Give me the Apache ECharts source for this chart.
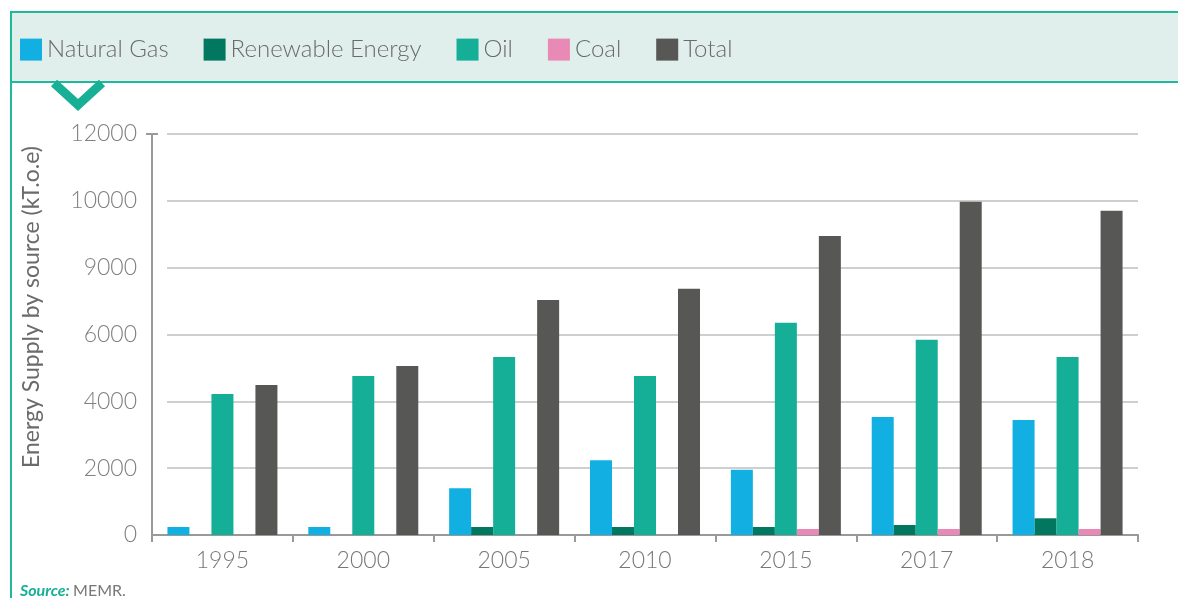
<!DOCTYPE html>
<html>
<head>
	<title>echarts</title>
	<script type="text/javascript" src="https://cdn.jsdelivr.net/npm/echarts@6/dist/echarts.min.js"></script>
	<style>
		body { margin: 0; background: #fff; }
	</style>
</head>
<body>
	<div id="mychar" style="width: 1178px;height:598px;"></div>

	<script type="text/javascript">
		// data (kT.o.e)
		var years = ['1995', '2000', '2005', '2010', '2015', '2017', '2018'];
		var naturalGas = [240, 240, 1400, 2240, 1950, 3530, 3440];
		var renewable = [0, 0, 240, 240, 240, 300, 500];
		var oil = [4220, 4760, 5330, 4760, 6350, 5840, 5330];
		var coal = [0, 0, 0, 0, 180, 180, 180];
		var total = [4490, 5060, 7030, 7370, 8950, 9970, 9700];
		// y tick labels as printed in the source (note the "9000")
		var yTickLabels = ['0', '2000', '4000', '6000', '9000', '10000', '12000'];

		var teal = '#17b096';
		var font = 'Lato, "Open Sans", sans-serif';

		var mychar = echarts.init(document.getElementById("mychar"));

		function barSeries(name, data, color) {
			return {
				name: name,
				type: 'bar',
				data: data,
				barWidth: 22,
				barGap: '0%',
				itemStyle: { color: color },
				emphasis: { disabled: true }
			};
		}

		var option = {
			backgroundColor: '#fff',
			animation: false,
			textStyle: { fontFamily: font },
			graphic: [
				{
					type: 'rect', z: -10, silent: true,
					shape: { x: 11, y: 12, width: 1180, height: 70 },
					style: { fill: '#e0efec', stroke: '#20b89c', lineWidth: 2 }
				},
				{
					type: 'line', z: -10, silent: true,
					shape: { x1: 11, y1: 12, x2: 11, y2: 600 },
					style: { stroke: '#20b89c', lineWidth: 2 }
				},
				{
					type: 'polyline', silent: true,
					shape: { points: [[54, 83], [78, 105], [102, 83]] },
					style: { stroke: teal, lineWidth: 9, fill: null }
				},
				{
					type: 'rect', z: 50, silent: true,
					shape: { x: 153, y: 128, width: 14, height: 405 },
					style: { fill: '#fff' }
				},
				{
					type: 'line', z: 60, silent: true,
					shape: { x1: 146, y1: 134, x2: 158, y2: 134 },
					style: { stroke: '#999', lineWidth: 2 }
				},
				{
					type: 'text', silent: true,
					x: 32, y: 307, rotation: Math.PI / 2,
					style: {
						text: 'Energy Supply by source (kT.o.e)',
						fontFamily: font, fontSize: 23, fill: '#6b6b6b',
						align: 'center', verticalAlign: 'middle'
					}
				},
				{
					type: 'text', silent: true,
					x: 20, y: 591,
					style: {
						text: '{s|Source:} {m|MEMR.}',
						verticalAlign: 'middle',
						rich: {
							s: { fontFamily: font, fontSize: 16, fontStyle: 'italic', fontWeight: 'bold', fill: teal },
							m: { fontFamily: font, fontSize: 16, fill: '#777' }
						}
					}
				}
			],
			legend: {
				left: 20,
				top: 32,
				padding: 0,
				itemWidth: 22,
				itemHeight: 22,
				itemGap: 35,
				icon: 'rect',
				textStyle: { fontFamily: font, fontSize: 24, fontWeight: 300, color: '#6a6a6a' },
				data: ['Natural Gas', 'Renewable Energy', 'Oil', 'Coal', 'Total']
			},
			grid: {
				left: 152,
				right: 40,
				top: 134,
				bottom: 63,
				containLabel: false
			},
			xAxis: {
				type: 'category',
				data: years,
				axisLine: { lineStyle: { color: '#999', width: 2 } },
				axisTick: { show: true, length: 7, lineStyle: { color: '#999', width: 2 } },
				axisLabel: { fontFamily: font, fontSize: 23, fontWeight: 300, color: '#777', margin: 9 }
			},
			yAxis: {
				type: 'value',
				min: 0,
				max: 12000,
				interval: 2000,
				axisLine: { show: true, lineStyle: { color: '#999', width: 2 } },
				axisTick: { show: false },
				splitLine: { lineStyle: { color: '#cfcfcf', width: 2 } },
				axisLabel: {
					fontFamily: font, fontSize: 23, fontWeight: 300, color: '#808080', margin: 15,
					formatter: function (v) {
						return yTickLabels[Math.round(v / 2000)];
					}
				}
			},
			series: [
				barSeries('Natural Gas', naturalGas, '#12b0e2'),
				barSeries('Renewable Energy', renewable, '#00775e'),
				barSeries('Oil', oil, '#15ae96'),
				barSeries('Coal', coal, '#e889b6'),
				barSeries('Total', total, '#575755')
			]
		};

		mychar.setOption(option);
	</script>
</body>
</html>
